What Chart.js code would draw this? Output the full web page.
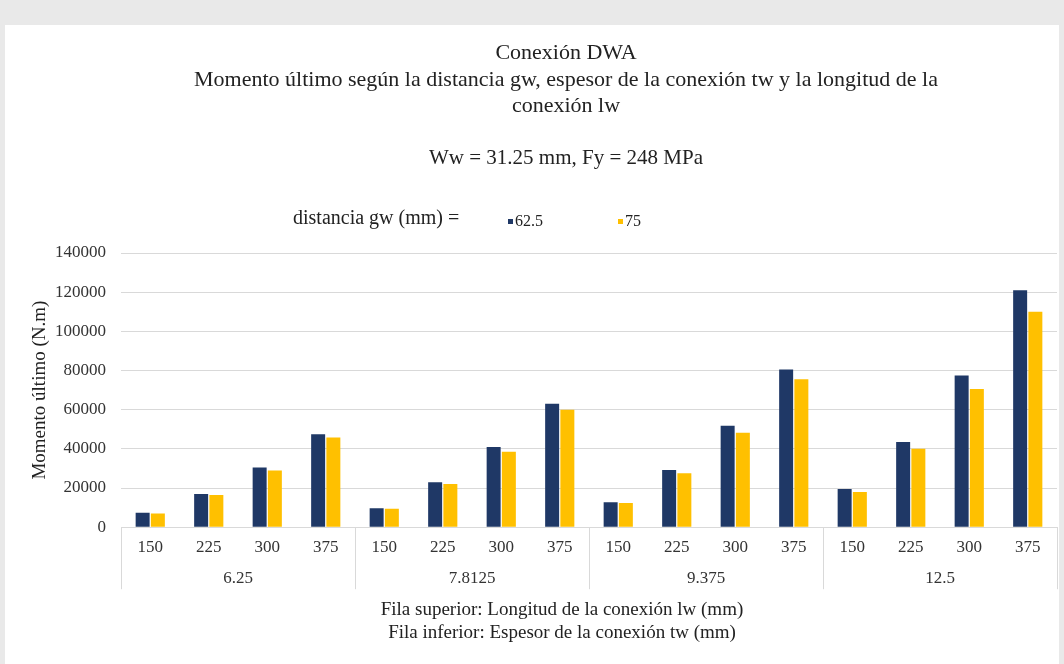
<!DOCTYPE html>
<html>
<head>
<meta charset="utf-8">
<script src="https://cdn.jsdelivr.net/npm/chart.js@4"></script>
<style>
  html, body { margin: 0; padding: 0; }
  body { width: 1064px; height: 664px; background: #e9e9e9; position: relative; overflow: hidden; font-family: "Liberation Serif", "DejaVu Serif", serif; color: #222; }
  #card { position: absolute; left: 5px; top: 25px; width: 1054px; height: 639px; background: #fff; }
  .txt { position: absolute; left: 0; text-align: center; white-space: nowrap; }
  #title { top: 39px; width: 1132px; font-size: 22px; line-height: 26.5px; }
  #subtitle { top: 144.5px; width: 1132px; font-size: 21px; line-height: 25px; }
  #xtitle { top: 596.5px; width: 1124px; font-size: 19px; line-height: 23px; }
  #legend { position: absolute; left: 0; top: 206px; width: 1064px; height: 24px; font-size: 20px; }
  #legend span { position: absolute; top: 0; white-space: nowrap; }
  #legend .item { font-size: 16px; top: 6px; }
  #legend i { display: inline-block; width: 5px; height: 5px; margin-right: 2px; vertical-align: 2px; }
</style>
</head>
<body>
<div id="card"><canvas id="chart" width="1054" height="639"></canvas></div>
<div id="title" class="txt"></div>
<div id="subtitle" class="txt"></div>
<div id="legend"></div>
<div id="xtitle" class="txt"></div>
<script>
// --- data ---
const lwLabels = ['150', '225', '300', '375', '150', '225', '300', '375', '150', '225', '300', '375', '150', '225', '300', '375'];
const twLabels = ['6.25', '7.8125', '9.375', '12.5'];
const gw625 = [7400, 17000, 30500, 47500, 9700, 23000, 41000, 63000, 12800, 29200, 51800, 80500, 19500, 43500, 77500, 121000];
const gw75 = [7000, 16500, 29000, 45800, 9400, 22000, 38500, 60000, 12300, 27500, 48200, 75500, 18000, 40000, 70500, 110000];
const seriesNames = ['62.5', '75'];
const seriesColors = ['#1f3866', '#ffc000'];
const titleLines = ['Conexión DWA', 'Momento último según la distancia gw, espesor de la conexión tw y la longitud de la', 'conexión lw'];
const subtitleText = 'Ww = 31.25 mm, Fy = 248 MPa';
const legendPrefix = 'distancia gw (mm) =';
const xTitleLines = ['Fila superior: Longitud de la conexión lw (mm)', 'Fila inferior: Espesor de la conexión tw (mm)'];
const yTitle = 'Momento último (N.m)';

// header and footer text
const putLines = (id, lines) => {
    const el = document.getElementById(id);
    lines.forEach(t => { const d = document.createElement('div'); d.textContent = t; el.appendChild(d); });
};
putLines('title', titleLines);
putLines('subtitle', [subtitleText]);
putLines('xtitle', xTitleLines);

// legend row: "distancia gw (mm) =" then the two series
const legendEl = document.getElementById('legend');
const pre = document.createElement('span');
pre.textContent = legendPrefix;
pre.style.left = '293px';
legendEl.appendChild(pre);
[508, 618].forEach((x, i) => {
    const s = document.createElement('span');
    s.className = 'item';
    s.style.left = x + 'px';
    s.innerHTML = '<i style="background:' + seriesColors[i] + '"></i>' + seriesNames[i];
    legendEl.appendChild(s);
});

// vertical separators of the two-row category axis
const groupLines = {
    id: 'groupLines',
    afterDraw(chart) {
        const x2 = chart.scales.x2, area = chart.chartArea, ctx = chart.ctx;
        const half = (x2.getPixelForValue(1) - x2.getPixelForValue(0)) / 2;
        const bottom = area.bottom + 62;
        ctx.save();
        ctx.strokeStyle = '#d9d9d9';
        ctx.lineWidth = 1;
        ctx.beginPath();
        for (let i = 0; i <= twLabels.length; i++) {
            const px = Math.round(x2.getPixelForValue(0) - half + i * 2 * half) + 0.5;
            ctx.moveTo(px, area.bottom);
            ctx.lineTo(px, bottom);
        }
        ctx.stroke();
        ctx.restore();
    }
};

const serif = 'Liberation Serif';
new Chart(document.getElementById('chart'), {
    type: 'bar',
    data: {
        labels: lwLabels,
        datasets: [
            { label: seriesNames[0], data: gw625, backgroundColor: seriesColors[0] },
            { label: seriesNames[1], data: gw75, backgroundColor: seriesColors[1] }
        ]
    },
    options: {
        responsive: false, animation: false,
        layout: { padding: { left: 15, right: 2, top: 228, bottom: 74 } },
        datasets: { bar: { categoryPercentage: 0.52, barPercentage: 0.92 } },
        plugins: { legend: { display: false }, tooltip: { enabled: false } },
        scales: {
            x: {
                grid: { display: false, drawTicks: false },
                border: { color: '#d9d9d9' },
                ticks: { color: '#333', padding: 10, maxRotation: 0, autoSkip: false, font: { family: serif, size: 17 } }
            },
            x2: {
                type: 'category', labels: twLabels, position: 'bottom', offset: true,
                grid: { display: false, drawTicks: false }, border: { display: false },
                ticks: { color: '#333', padding: 1, font: { family: serif, size: 17 } }
            },
            y: {
                min: 0, max: 140000,
                afterFit: s => { s.width = 101; },
                grid: { color: '#d9d9d9', drawTicks: false },
                border: { display: false },
                ticks: { stepSize: 20000, color: '#333', padding: 15, callback: v => String(v), font: { family: serif, size: 17 } },
                title: { display: true, text: yTitle, color: '#222', font: { family: serif, size: 19 }, padding: { top: 9, bottom: 0 } }
            }
        }
    },
    plugins: [groupLines]
});
</script>
</body>
</html>
